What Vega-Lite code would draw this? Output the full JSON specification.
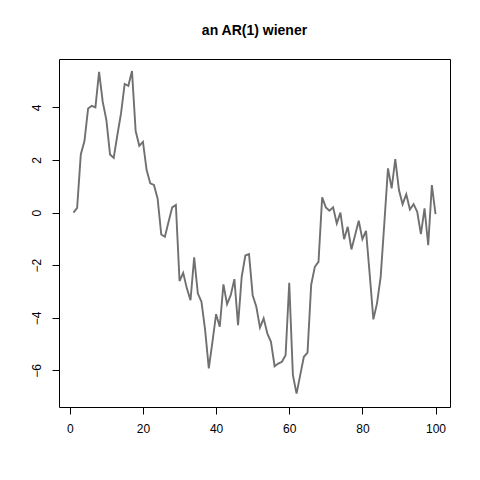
{
  "$schema": "https://vega.github.io/schema/vega-lite/v6.json",
  "autosize": {"type": "none"},
  "padding": {"left": 59, "top": 59, "right": 30, "bottom": 73},
  "width": 391,
  "height": 348,
  "background": "white",
  "title": {"text": "an AR(1) wiener", "fontSize": 14, "fontWeight": "bold", "font": "Liberation Sans", "color": "black", "anchor": "middle", "offset": 21},
  "config": {"view": {"stroke": "#000", "strokeWidth": 1}},
  "data": {"values": [
    {"t":1,"v":0.0},{"t":2,"v":0.18},{"t":3,"v":2.21},{"t":4,"v":2.72},{"t":5,"v":3.96},
    {"t":6,"v":4.06},{"t":7,"v":4.0},{"t":8,"v":5.35},{"t":9,"v":4.21},{"t":10,"v":3.52},
    {"t":11,"v":2.21},{"t":12,"v":2.08},{"t":13,"v":2.95},{"t":14,"v":3.77},{"t":15,"v":4.89},
    {"t":16,"v":4.82},{"t":17,"v":5.38},{"t":18,"v":3.1},{"t":19,"v":2.54},{"t":20,"v":2.69},
    {"t":21,"v":1.62},{"t":22,"v":1.11},{"t":23,"v":1.05},{"t":24,"v":0.54},{"t":25,"v":-0.83},
    {"t":26,"v":-0.92},{"t":27,"v":-0.35},{"t":28,"v":0.2},{"t":29,"v":0.29},{"t":30,"v":-2.6},
    {"t":31,"v":-2.29},{"t":32,"v":-2.88},{"t":33,"v":-3.33},{"t":34,"v":-1.7},{"t":35,"v":-3.07},
    {"t":36,"v":-3.39},{"t":37,"v":-4.47},{"t":38,"v":-5.92},{"t":39,"v":-4.91},{"t":40,"v":-3.86},
    {"t":41,"v":-4.34},{"t":42,"v":-2.73},{"t":43,"v":-3.48},{"t":44,"v":-3.14},{"t":45,"v":-2.53},
    {"t":46,"v":-4.28},{"t":47,"v":-2.44},{"t":48,"v":-1.63},{"t":49,"v":-1.58},{"t":50,"v":-3.14},
    {"t":51,"v":-3.58},{"t":52,"v":-4.37},{"t":53,"v":-4.02},{"t":54,"v":-4.59},{"t":55,"v":-4.91},
    {"t":56,"v":-5.84},{"t":57,"v":-5.74},{"t":58,"v":-5.67},{"t":59,"v":-5.42},{"t":60,"v":-2.67},
    {"t":61,"v":-6.18},{"t":62,"v":-6.88},{"t":63,"v":-6.18},{"t":64,"v":-5.48},{"t":65,"v":-5.32},
    {"t":66,"v":-2.74},{"t":67,"v":-2.06},{"t":68,"v":-1.87},{"t":69,"v":0.58},{"t":70,"v":0.2},
    {"t":71,"v":0.07},{"t":72,"v":0.2},{"t":73,"v":-0.41},{"t":74,"v":0.0},{"t":75,"v":-1.01},
    {"t":76,"v":-0.54},{"t":77,"v":-1.4},{"t":78,"v":-0.86},{"t":79,"v":-0.31},{"t":80,"v":-1.01},
    {"t":81,"v":-0.69},{"t":82,"v":-2.35},{"t":83,"v":-4.06},{"t":84,"v":-3.45},{"t":85,"v":-2.44},
    {"t":86,"v":-0.41},{"t":87,"v":1.68},{"t":88,"v":0.92},{"t":89,"v":2.03},{"t":90,"v":0.86},
    {"t":91,"v":0.32},{"t":92,"v":0.7},{"t":93,"v":0.12},{"t":94,"v":0.32},{"t":95,"v":0.03},
    {"t":96,"v":-0.82},{"t":97,"v":0.16},{"t":98,"v":-1.24},{"t":99,"v":1.05},{"t":100,"v":-0.06}
  ]},
  "mark": {"type": "line", "color": "#707070", "strokeWidth": 1.9},
  "encoding": {
    "x": {"field": "t", "type": "quantitative",
      "scale": {"domain": [-2.96, 103.96], "nice": false, "zero": false},
      "axis": {"title": null, "values": [0,20,40,60,80,100], "grid": false, "domain": false,
        "tickSize": 7, "tickColor": "#000", "labelFontSize": 12, "labelFont": "Liberation Sans", "labelColor": "#000", "labelPadding": 9, "labelFlush": false}},
    "y": {"field": "v", "type": "quantitative",
      "scale": {"domain": [-7.39, 5.84], "nice": false, "zero": false},
      "axis": {"title": null, "values": [-6,-4,-2,0,2,4], "grid": false, "domain": false,
        "tickSize": 7, "tickColor": "#000", "labelFontSize": 12, "labelFont": "Liberation Sans", "labelColor": "#000",
        "labelAngle": -90, "labelAlign": "center", "labelBaseline": "bottom", "labelPadding": 9}}
  }
}
